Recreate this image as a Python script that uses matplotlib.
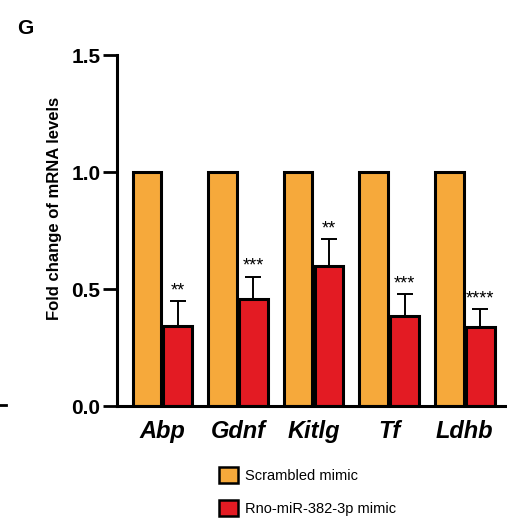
import numpy as np
import matplotlib
matplotlib.use("Agg")
import matplotlib.pyplot as plt
from matplotlib.patches import Patch
from matplotlib.lines import Line2D

plt.rcParams['font.family'] = ['Liberation Sans', 'DejaVu Sans']

genes = ['Abp', 'Gdnf', 'Kitlg', 'Tf', 'Ldhb']
scrambled = [1.0, 1.0, 1.0, 1.0, 1.0]
mimic = [0.34, 0.457, 0.598, 0.386, 0.339]
mimic_err = [0.107, 0.096, 0.114, 0.093, 0.076]
stars = ['**', '***', '**', '***', '****']

c_orange = '#F6A93B'
c_red = '#E31B23'

fig = plt.figure(figsize=(5.07, 5.19), dpi=100)
ax = fig.add_axes([0.2308, 0.2177, 0.7692, 0.6763])

x = np.arange(len(genes))
w = 0.38
off = 0.205
ax.bar(x - off, scrambled, w, color=c_orange, edgecolor='black', linewidth=2.2, zorder=3)
ax.bar(x + off, mimic, w, color=c_red, edgecolor='black', linewidth=2.2, zorder=3)
ax.errorbar(x + off, mimic, yerr=[np.zeros(len(mimic)), mimic_err], fmt='none',
            ecolor='black', elinewidth=1.4, capsize=6, capthick=1.4, zorder=2)

for i in range(len(genes)):
    ax.text(x[i] + off, mimic[i] + mimic_err[i] + 0.008, stars[i], ha='center', va='bottom',
            fontsize=13, color='black')

ax.set_xlim(-0.6, 4.56)
ax.set_ylim(0, 1.5)
ax.set_yticks([0.0, 0.5, 1.0, 1.5])
ax.set_yticklabels(['0.0', '0.5', '1.0', '1.5'], fontsize=15, fontweight='bold')
ax.set_xticks(x)
ax.set_xticklabels(genes, fontsize=17, fontweight='bold', fontstyle='italic')
ax.tick_params(axis='x', length=0, pad=10)
ax.tick_params(axis='y', length=10, width=2, pad=2)
for s in ['top', 'right']:
    ax.spines[s].set_visible(False)
for s in ['left', 'bottom']:
    ax.spines[s].set_linewidth(2.2)
ax.spines['bottom'].set_zorder(4)

ax.set_ylabel('Fold change of mRNA levels', fontsize=12, fontweight='bold')
ax.yaxis.set_label_coords(-0.142, 0.564)

fig.text(0.034, 0.945, 'G', fontsize=15, fontweight='bold', ha='left', va='center')

# leftover edge of the neighbouring panel
fig.add_artist(Line2D([0.0, 0.012], [0.2197, 0.2197], color='black', lw=2))

handles = [Patch(facecolor=c_orange, edgecolor='black', linewidth=1.8, label='Scrambled mimic'),
           Patch(facecolor=c_red, edgecolor='black', linewidth=1.8, label='Rno-miR-382-3p mimic')]
fig.legend(handles=handles, loc='upper left', bbox_to_anchor=(0.432, 0.1), frameon=False,
           fontsize=10.5, handlelength=1.3, handleheight=1.3, labelspacing=1.15, handletextpad=0.45,
           borderaxespad=0, borderpad=0)

fig.savefig('out.png', dpi=100)
